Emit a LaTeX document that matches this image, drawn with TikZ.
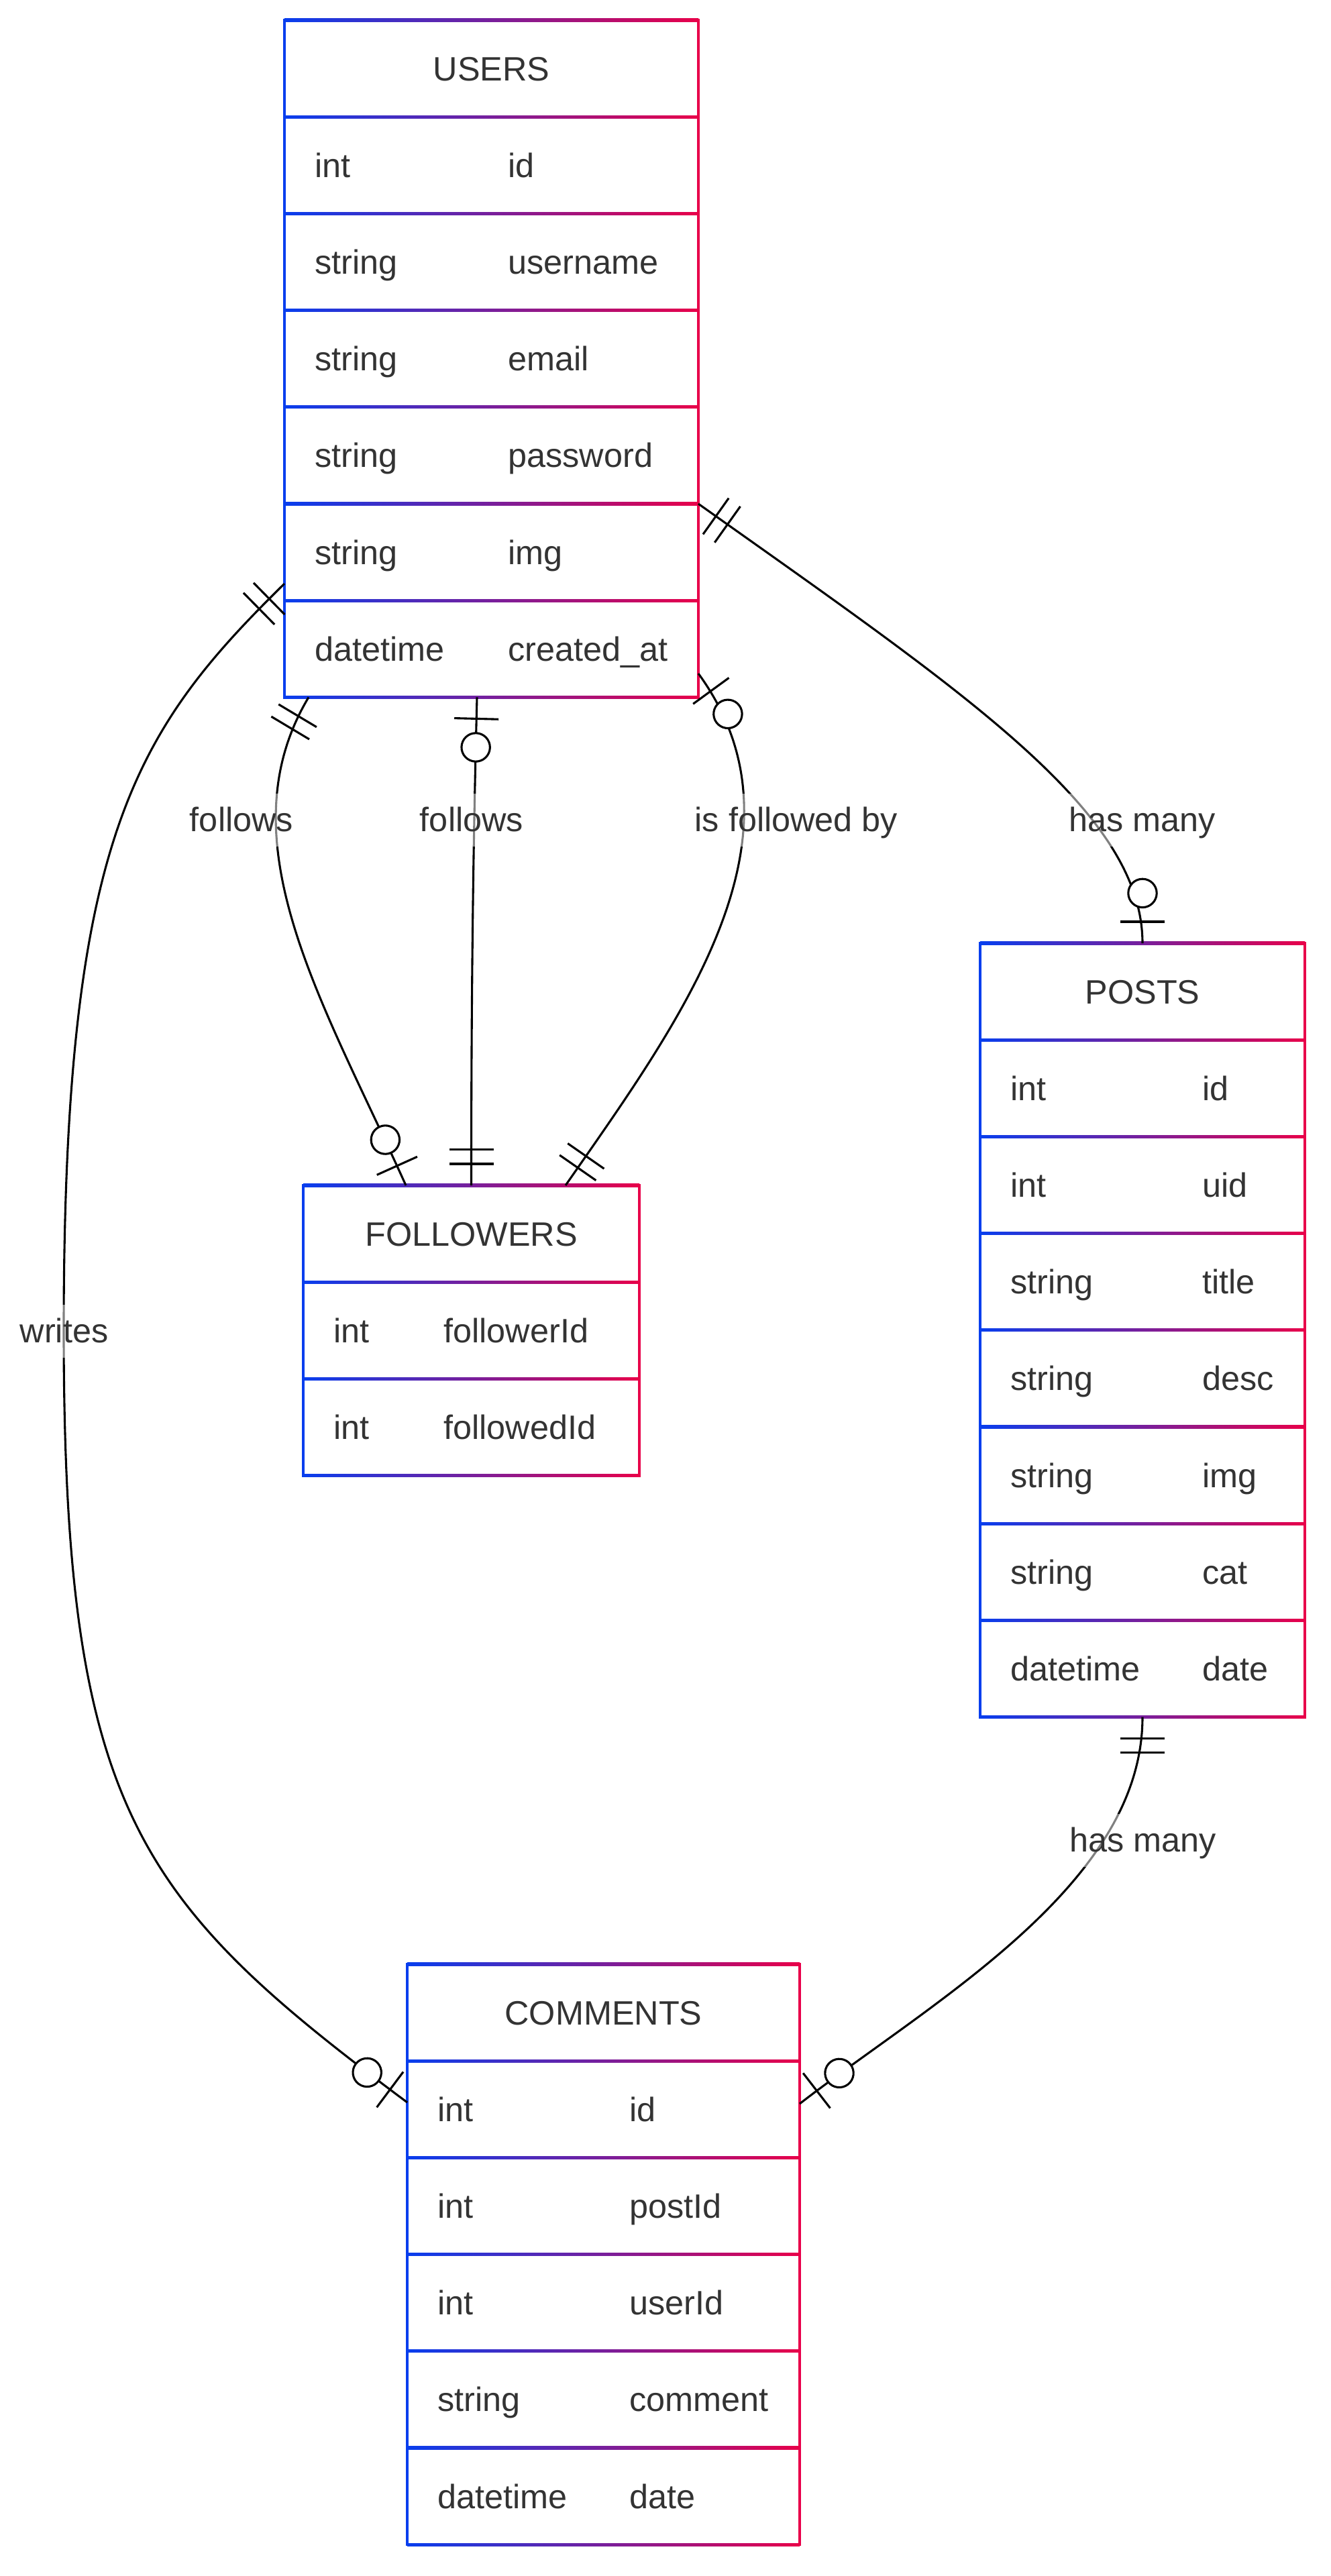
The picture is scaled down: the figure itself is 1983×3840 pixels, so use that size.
\documentclass[tikz,border=0pt]{standalone}
\usepackage{fontspec}
\setmainfont{Liberation Sans}
\usetikzlibrary{calc}
\definecolor{eblue}{RGB}{8,62,238}
\definecolor{ered}{RGB}{232,0,74}
\definecolor{tgray}{RGB}{51,51,51}

% table frame: name, x0, y0, width, number of sections
\newcommand{\ertable}[5]{%
  \node[tablebox, minimum width=#4*0.5pt, minimum height=#5*144.2*0.5pt] (#1) at (#2,#3) {};
  \foreach \k in {0,...,#5} {
    \shade[left color=eblue, right color=ered] (#2,{#3+\k*144.2-2.1}) rectangle ({#2+#4},{#3+\k*144.2+2.1});
  }
  \fill[eblue] ({#2-2.1},{#3-2.1}) rectangle ({#2+2.1},{#3+#5*144.2+2.1});
  \fill[ered] ({#2+#4-2.1},{#3-2.1}) rectangle ({#2+#4+2.1},{#3+#5*144.2+2.1});
}
% row text: table, row index, type, name, name offset
\newcommand{\erow}[5]{%
  \node[rowtxt] (#1-t#2) at ($(#1.north west)+(45,{144.2*#2+90.1})$) {#3};
  \node[rowtxt] (#1-n#2) at ($(#1.north west)+(#5,{144.2*#2+90.1})$) {#4};}
% exactly-one marker: end point, control point
\newcommand{\mkone}[2]{%
  \pgfmathanglebetweenpoints{\pgfpointanchor{#1}{center}}{\pgfpointanchor{#2}{center}}%
  \let\mkang\pgfmathresult
  \begin{scope}[shift={(#1)}, rotate=\mkang]
    \draw[conn] (16pt,-16.5pt) -- (16pt,16.5pt) (26.6pt,-16.5pt) -- (26.6pt,16.5pt);
  \end{scope}}
% zero-or-one marker
\newcommand{\mkzo}[2]{%
  \pgfmathanglebetweenpoints{\pgfpointanchor{#1}{center}}{\pgfpointanchor{#2}{center}}%
  \let\mkang\pgfmathresult
  \begin{scope}[shift={(#1)}, rotate=\mkang]
    \draw[conn] (16pt,-16.5pt) -- (16pt,16.5pt);
    \draw[conn, fill=white] (37.3pt,0pt) circle[radius=10.6pt];
  \end{scope}}

\begin{document}
\begin{tikzpicture}[x=0.5pt,y=-0.5pt,
  conn/.style={draw=black, line width=1.55pt},
  tablebox/.style={draw=none, inner sep=0pt, outer sep=0pt, anchor=north west},
  rowtxt/.style={font=\fontsize{25.2}{30}\selectfont, text=tgray, inner sep=0pt, anchor=base west},
  titletxt/.style={font=\fontsize{25.2}{30}\selectfont, text=tgray, inner sep=0pt, anchor=base},
  elabel/.style={font=\fontsize{25.2}{30}\selectfont, text=tgray, fill=white, fill opacity=0.5, text opacity=1,
    inner xsep=2pt, inner ysep=0pt, text height=28pt, text depth=11.5pt, anchor=base}]

\fill[white] (0,0) rectangle (1983,3840);
\useasboundingbox (0,0) rectangle (1983,3840);

% ---------- tables ----------
\ertable{users}{424}{30}{617}{7}
\ertable{followers}{452}{1767}{501}{3}
\ertable{posts}{1461}{1406}{484}{8}
\ertable{comments}{607}{2928}{585}{6}

\node[titletxt] (users-title) at ($(users.north)+(0,90.1)$) {USERS};
\erow{users}{1}{int}{id}{333}
\erow{users}{2}{string}{username}{333}
\erow{users}{3}{string}{email}{333}
\erow{users}{4}{string}{password}{333}
\erow{users}{5}{string}{img}{333}
\erow{users}{6}{datetime}{created\_at}{333}

\node[titletxt] (followers-title) at ($(followers.north)+(0,90.1)$) {FOLLOWERS};
\erow{followers}{1}{int}{followerId}{209}
\erow{followers}{2}{int}{followedId}{209}

\node[titletxt] (posts-title) at ($(posts.north)+(0,90.1)$) {POSTS};
\erow{posts}{1}{int}{id}{331}
\erow{posts}{2}{int}{uid}{331}
\erow{posts}{3}{string}{title}{331}
\erow{posts}{4}{string}{desc}{331}
\erow{posts}{5}{string}{img}{331}
\erow{posts}{6}{string}{cat}{331}
\erow{posts}{7}{datetime}{date}{331}

\node[titletxt] (comments-title) at ($(comments.north)+(0,90.1)$) {COMMENTS};
\erow{comments}{1}{int}{id}{331}
\erow{comments}{2}{int}{postId}{331}
\erow{comments}{3}{int}{userId}{331}
\erow{comments}{4}{string}{comment}{331}
\erow{comments}{5}{datetime}{date}{331}

% ---------- connector end points ----------
\coordinate (A0) at ($(users.north east)+(0,721)$);
\coordinate (A1) at (posts.north);
\coordinate (B0) at ($(users.south west)+(36,0)$);
\coordinate (B1) at ($(followers.north west)+(153,0)$);
\coordinate (C0) at ($(users.south west)+(287,0)$);
\coordinate (C1) at (followers.north);
\coordinate (D0) at ($(users.north east)+(0,974)$);
\coordinate (D1) at ($(followers.north west)+(391,0)$);
\coordinate (E0) at ($(users.north west)+(0,840)$);
\coordinate (Em) at (95,1983);
\coordinate (E1) at ($(comments.north west)+(0,206)$);
\coordinate (F0) at (posts.south);
\coordinate (F1) at ($(comments.north east)+(0,208)$);

% control points
\coordinate (A0c) at ($(A0)+(400,284)$);
\coordinate (A1c) at ($(A1)+(0,-196)$);
\coordinate (B0c) at ($(B0)+(-128,214)$);
\coordinate (B1c) at ($(B1)+(-123,-273)$);
\coordinate (C0c) at ($(C0)+(-4,161)$);
\coordinate (C1c) at ($(C1)+(0,-364)$);
\coordinate (D0c) at ($(D0)+(177,243)$);
\coordinate (D1c) at ($(D1)+(171,-246)$);
\coordinate (E0c) at ($(E0)+(-224,220)$);
\coordinate (Ema) at ($(Em)+(0,-733)$);
\coordinate (Emb) at ($(Em)+(0,717)$);
\coordinate (E1c) at ($(E1)+(-402,-300)$);
\coordinate (F0c) at ($(F0)+(0,250)$);
\coordinate (F1c) at ($(F1)+(198,-153)$);

% ---------- connectors ----------
\draw[conn] (A0) .. controls (A0c) and (A1c) .. (A1);
\draw[conn] (B0) .. controls (B0c) and (B1c) .. (B1);
\draw[conn] (C0) .. controls (C0c) and (C1c) .. (C1);
\draw[conn] (D0) .. controls (D0c) and (D1c) .. (D1);
\draw[conn] (E0) .. controls (E0c) and (Ema) .. (Em) .. controls (Emb) and (E1c) .. (E1);
\draw[conn] (F0) .. controls (F0c) and (F1c) .. (F1);

% ---------- markers ----------
\mkone{A0}{A0c}
\mkzo{A1}{A1c}
\mkone{B0}{B0c}
\mkzo{B1}{B1c}
\mkzo{C0}{C0c}
\mkone{C1}{C1c}
\mkzo{D0}{D0c}
\mkone{D1}{D1c}
\mkone{E0}{E0c}
\mkzo{E1}{E1c}
\mkone{F0}{F0c}
\mkzo{F1}{F1c}

% ---------- labels ----------
\node[elabel] (lA) at (1703,1239) {has many};
\node[elabel] (lB) at (360,1239) {follows};
\node[elabel] (lC) at (703,1239) {follows};
\node[elabel] (lD) at (1187,1239) {is followed by};
\node[elabel] (lE) at (95.5,2001) {writes};
\node[elabel] (lF) at (1704,2760) {has many};
\end{tikzpicture}
\end{document}
